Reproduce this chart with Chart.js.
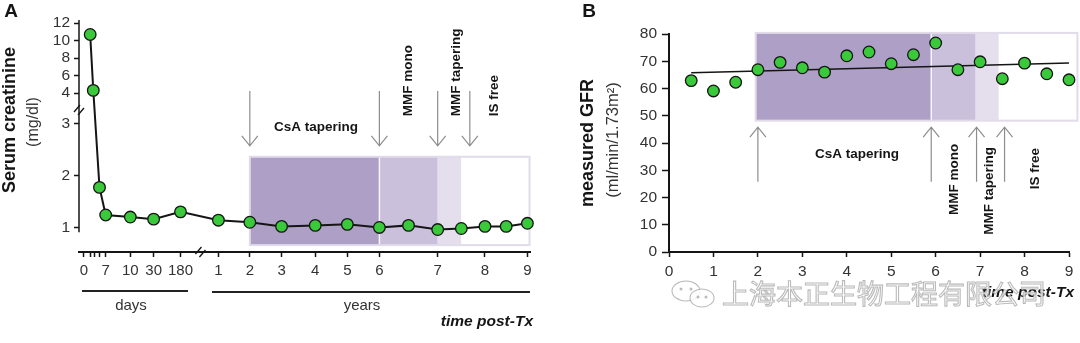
<!DOCTYPE html>
<html>
<head>
<meta charset="utf-8">
<script src="https://cdn.jsdelivr.net/npm/chart.js@4.4.0/dist/chart.umd.min.js"></script>
<style>
html, body { margin: 0; padding: 0; background: #fff; }
#wrap { position: relative; width: 1080px; height: 343px; }
.panel { position: absolute; top: 0; height: 343px; }
#panelA { left: 0; width: 545px; }
#panelB { left: 545px; width: 535px; }
</style>
</head>
<body>
<div id="wrap">
  <div class="panel" id="panelA"><canvas id="chartA" width="545" height="343"></canvas></div>
  <div class="panel" id="panelB"><canvas id="chartB" width="535" height="343"></canvas></div>
</div>
<script>
// A: serum creatinine after transplant
const creatDays = [2, 3, 5, 7, 10, 30, 180];
const creatYears = [1, 2, 3, 4, 5, 6, 6.5, 7, 7.5, 8, 8.5, 9];
const creatValues = [10.7, 4.3, 1.78, 1.25, 1.21, 1.17, 1.31, 1.15, 1.11, 1.03, 1.05, 1.07, 1.01, 1.05, 0.97, 0.99, 1.03, 1.03, 1.09];
const creatTickDays = [0, 7, 10, 30, 180, 365, 730, 1095, 1460, 1825, 2190, 2555, 2920, 3285];
const creatTickLabels = ['0', '7', '10', '30', '180', '1', '2', '3', '4', '5', '6', '7', '8', '9'];
const creatMinorDays = [2, 3.5, 5];
const creatYTicks = [1, 2, 3, 4, 6, 8, 10, 12];

// B: measured GFR
const gfrYears = [0.5, 1, 1.5, 2, 2.5, 3, 3.5, 4, 4.5, 5, 5.5, 6, 6.5, 7, 7.5, 8, 8.5, 9];
const gfrValues = [62.9, 59.1, 62.3, 66.9, 69.6, 67.6, 66.0, 72.0, 73.4, 69.1, 72.4, 76.7, 66.9, 69.8, 63.6, 69.3, 65.4, 63.2];
const gfrXTicks = [0, 1, 2, 3, 4, 5, 6, 7, 8, 9];
const gfrYTicks = [0, 10, 20, 30, 40, 50, 60, 70, 80];

// immunosuppression phases (years post-Tx), last entry closes the box
const phaseNames = ['CsA tapering', 'MMF mono', 'MMF tapering', 'IS free'];
const phaseEdgesA = [2, 6, 7, 7.5, 9.05];
const phaseEdgesB = [1.95, 5.9, 6.9, 7.42, 9.19];
const arrowYearsA = [2, 6, 7, 7.68];
const arrowYearsB = [2, 5.9, 6.92, 7.55];

const FONT = "'Liberation Sans', Arial, sans-serif";
const GREEN = '#3ac93a';
const INK = '#151515';
const TICK_TXT = '#333';
const ARROW = '#8d8d8d';
const phaseColors = ['#ae9fc7', '#cbc0dc', '#e4deed', '#ffffff'];

// broken y axis for creatinine: linear up to 3, short gap, compressed above 4
const BREAK_LO = 3, BREAK_HI = 4, GAP = 0.596, UPPER = 0.168;
function toAxis(v) {
    if (v <= BREAK_LO) return v;
    if (v < BREAK_HI) return BREAK_LO + (v - BREAK_LO) * GAP;
    return BREAK_LO + GAP + (v - BREAK_HI) * UPPER;
}

// stretched time axis: slot of each labelled tick, linear in between
const tickSlots = [0, 0.67, 1.43, 2.15, 2.98, 4.15, 5.12, 6.10, 7.14, 8.13, 9.12, 10.92, 12.38, 13.69];
function warp(days) {
    const k = creatTickDays, s = tickSlots, n = k.length;
    if (days <= k[0]) return s[0];
    for (let i = 1; i < n; i++) {
        if (days <= k[i]) return s[i - 1] + (days - k[i - 1]) / (k[i] - k[i - 1]) * (s[i] - s[i - 1]);
    }
    return s[n - 1] + (days - k[n - 1]) / (k[n - 1] - k[n - 2]) * (s[n - 1] - s[n - 2]);
}

function drawPhases(ctx, xs, top, bottom) {
    ctx.save();
    for (let i = 0; i < 4; i++) {
        ctx.fillStyle = phaseColors[i];
        ctx.fillRect(xs[i], top, xs[i + 1] - xs[i], bottom - top);
    }
    ctx.strokeStyle = '#e1dbea';
    ctx.lineWidth = 2;
    ctx.strokeRect(xs[0], top, xs[4] - xs[0], bottom - top);
    ctx.strokeStyle = 'rgba(255,255,255,0.85)';
    ctx.lineWidth = 1.5;
    ctx.beginPath();
    ctx.moveTo(xs[1], top + 1);
    ctx.lineTo(xs[1], bottom - 1);
    ctx.stroke();
    ctx.restore();
}

function drawArrow(ctx, x, yFrom, yTo) {
    const dir = yTo > yFrom ? 1 : -1;
    ctx.save();
    ctx.strokeStyle = ARROW;
    ctx.lineWidth = 1.2;
    ctx.beginPath();
    ctx.moveTo(x, yFrom);
    ctx.lineTo(x, yTo);
    ctx.moveTo(x - 8, yTo - dir * 10);
    ctx.lineTo(x, yTo);
    ctx.lineTo(x + 8, yTo - dir * 10);
    ctx.stroke();
    ctx.restore();
}

// rotated label; 'bottom' starts the text at y, 'top' ends it at y
function vText(ctx, s, x, y, anchor, font) {
    ctx.save();
    ctx.translate(x, y);
    ctx.rotate(-Math.PI / 2);
    ctx.font = font;
    ctx.textAlign = anchor === 'bottom' ? 'left' : (anchor === 'top' ? 'right' : 'center');
    ctx.textBaseline = 'middle';
    ctx.fillText(s, 0, 0);
    ctx.restore();
}

function text(ctx, s, x, y, font, align, color) {
    ctx.save();
    ctx.font = font;
    ctx.fillStyle = color || INK;
    ctx.textAlign = align || 'center';
    ctx.textBaseline = 'middle';
    ctx.fillText(s, x, y);
    ctx.restore();
}

function slash(ctx, x, y) {
    ctx.save();
    ctx.strokeStyle = INK;
    ctx.lineWidth = 1.3;
    ctx.beginPath();
    ctx.moveTo(x - 5, y + 2); ctx.lineTo(x + 1, y - 5);
    ctx.moveTo(x - 1, y + 5); ctx.lineTo(x + 5, y - 2);
    ctx.stroke();
    ctx.restore();
}

const BOLD13 = 'bold 13.5px ' + FONT;

const panelAPlugin = {
    id: 'panelA',
    beforeDatasetsDraw(chart) {
        const { ctx, scales: { x, y } } = chart;
        const px = yr => x.getPixelForValue(warp(yr * 365));
        const py = v => y.getPixelForValue(toAxis(v));
        drawPhases(ctx, phaseEdgesA.map(px), py(2.37), py(0.67));
    },
    afterDraw(chart) {
        const { ctx, chartArea, scales: { x, y } } = chart;
        const px = yr => x.getPixelForValue(warp(yr * 365));
        const py = v => y.getPixelForValue(toAxis(v));

        // y axis line stops short of the time axis
        ctx.save();
        ctx.strokeStyle = INK;
        ctx.lineWidth = 1.5;
        ctx.beginPath();
        ctx.moveTo(chartArea.left, py(0.92));
        ctx.lineTo(chartArea.left, chartArea.top);
        ctx.stroke();
        ctx.restore();
        slash(ctx, chartArea.left, y.getPixelForValue(BREAK_LO + GAP * 0.45));
        slash(ctx, (x.getPixelForValue(warp(180)) + x.getPixelForValue(warp(365))) / 2 + 1, chartArea.bottom);

        arrowYearsA.forEach(t => drawArrow(ctx, px(t), py(4.23), py(2.58)));
        ctx.fillStyle = INK;
        text(ctx, phaseNames[0], px(4.02), py(2.93), BOLD13);
        vText(ctx, phaseNames[1], px(6.5), py(3.25), 'bottom', BOLD13);
        vText(ctx, phaseNames[2], px(7.39), py(3.25), 'bottom', BOLD13);
        vText(ctx, phaseNames[3], px(8.21), py(3.25), 'bottom', BOLD13);

        // axis title and panel letter
        ctx.fillStyle = INK;
        vText(ctx, 'Serum creatinine', 10, 120, 'center', 'bold 18px ' + FONT);
        ctx.fillStyle = '#333';
        vText(ctx, '(mg/dl)', 33.5, 122, 'center', '16px ' + FONT);
        text(ctx, 'A', 11, 12, 'bold 19px ' + FONT);

        // days / years brackets under the time axis
        ctx.save();
        ctx.strokeStyle = '#222';
        ctx.lineWidth = 2;
        ctx.beginPath();
        ctx.moveTo(82, 291); ctx.lineTo(188, 291);
        ctx.moveTo(212, 292); ctx.lineTo(530, 292);
        ctx.stroke();
        ctx.restore();
        text(ctx, 'days', 131, 306, '15px ' + FONT, 'center', '#333');
        text(ctx, 'years', 362, 306, '15px ' + FONT, 'center', '#333');
        text(ctx, 'time post-Tx', 533, 322, 'italic bold 15.5px ' + FONT, 'right', INK);
    }
};

const creatTimes = creatDays.concat(creatYears.map(t => t * 365));
const creatPoints = creatTimes.map((d, i) => ({ x: warp(d), y: toAxis(creatValues[i]) }));

new Chart(document.getElementById('chartA'), {
    type: 'line',
    data: {
        datasets: [{
            data: creatPoints,
            borderColor: INK,
            borderWidth: 2,
            tension: 0,
            pointRadius: 5.8,
            pointBackgroundColor: GREEN,
            pointBorderColor: INK,
            pointBorderWidth: 1.3,
            clip: false
        }]
    },
    options: {
        responsive: false,
        animation: false,
        layout: { padding: { left: 0, top: 20, right: 15, bottom: 0 } },
        plugins: { legend: { display: false }, tooltip: { enabled: false } },
        scales: {
            x: {
                type: 'linear',
                min: -0.154,
                max: 13.77,
                afterFit: s => { s.height = 91; },
                afterBuildTicks: s => {
                    s.ticks = creatTickDays.concat(creatMinorDays).sort((a, b) => a - b).map(d => ({ value: warp(d) }));
                },
                ticks: {
                    autoSkip: false, maxRotation: 0, minRotation: 0, padding: 5,
                    color: TICK_TXT, font: { family: FONT, size: 15 },
                    callback: v => {
                        const i = creatTickDays.findIndex(d => Math.abs(warp(d) - v) < 1e-6);
                        return i < 0 ? '' : creatTickLabels[i];
                    }
                },
                grid: { drawOnChartArea: false, drawTicks: true, tickLength: 5, tickColor: INK, tickWidth: 1.5 },
                border: { display: true, color: INK, width: 2 }
            },
            y: {
                type: 'linear',
                min: 0.538,
                max: 5.0,
                afterFit: s => { s.width = 79; },
                afterBuildTicks: s => { s.ticks = creatYTicks.map(v => ({ value: toAxis(v) })); },
                ticks: {
                    padding: 4, color: TICK_TXT, font: { family: FONT, size: 15.5 },
                    callback: v => {
                        const t = creatYTicks.find(c => Math.abs(toAxis(c) - v) < 1e-6);
                        return t === undefined ? '' : String(t);
                    }
                },
                grid: { drawOnChartArea: false, drawTicks: true, tickLength: 5, tickColor: INK, tickWidth: 1.5 },
                border: { display: false }
            }
        }
    },
    plugins: [panelAPlugin]
});

// least-squares trend through the GFR measurements
const n = gfrYears.length;
const mx = gfrYears.reduce((a, b) => a + b, 0) / n;
const my = gfrValues.reduce((a, b) => a + b, 0) / n;
let sxy = 0, sxx = 0;
gfrYears.forEach((t, i) => { sxy += (t - mx) * (gfrValues[i] - my); sxx += (t - mx) * (t - mx); });
const slope = sxy / sxx;
const trend = [gfrYears[0], gfrYears[n - 1]].map(t => ({ x: t, y: my + slope * (t - mx) }));

const panelBPlugin = {
    id: 'panelB',
    beforeDatasetsDraw(chart) {
        const { ctx, scales: { x, y } } = chart;
        drawPhases(ctx, phaseEdgesB.map(t => x.getPixelForValue(t)), y.getPixelForValue(80.4), y.getPixelForValue(48.2));
    },
    afterDraw(chart) {
        const { ctx, scales: { x, y } } = chart;
        const px = t => x.getPixelForValue(t);
        const py = v => y.getPixelForValue(v);

        arrowYearsB.forEach(t => drawArrow(ctx, px(t), py(25.8), py(45.8)));
        ctx.fillStyle = INK;
        text(ctx, phaseNames[0], px(4.23), py(35.8), BOLD13);
        vText(ctx, phaseNames[1], px(6.41), py(39.7), 'top', BOLD13);
        vText(ctx, phaseNames[2], px(7.2), py(38.5), 'top', BOLD13);
        vText(ctx, phaseNames[3], px(8.25), py(38.2), 'top', BOLD13);

        ctx.fillStyle = INK;
        vText(ctx, 'measured GFR', 43, 143, 'center', 'bold 18px ' + FONT);
        ctx.fillStyle = '#333';
        vText(ctx, '(ml/min/1.73m\u00b2)', 68, 140, 'center', '16.5px ' + FONT);
        text(ctx, 'B', 44, 12, 'bold 19px ' + FONT);

        text(ctx, 'time post-Tx', 529, 293, 'italic bold 15.5px ' + FONT, 'right', INK);

        // watermark laid over the bottom-right corner
        ctx.save();
        ctx.lineWidth = 1.1;
        ctx.strokeStyle = 'rgba(175,175,175,0.85)';
        ctx.fillStyle = 'rgba(255,255,255,0.85)';
        ctx.beginPath(); ctx.ellipse(141, 291, 14, 10, 0, 0, Math.PI * 2); ctx.fill(); ctx.stroke();
        ctx.beginPath(); ctx.ellipse(157, 298, 12, 9, 0, 0, Math.PI * 2); ctx.fill(); ctx.stroke();
        ctx.fillStyle = 'rgba(175,175,175,0.85)';
        [[136, 289], [146, 289], [153, 297], [161, 297]].forEach(([a, b]) => {
            ctx.beginPath(); ctx.arc(a, b, 1.5, 0, Math.PI * 2); ctx.fill();
        });
        ctx.font = '27px "Noto Sans CJK SC"';
        ctx.textAlign = 'left';
        ctx.textBaseline = 'middle';
        ctx.fillStyle = 'rgba(255,255,255,0.8)';
        ctx.fillText('上海本正生物工程有限公司', 177, 294);
        ctx.strokeText('上海本正生物工程有限公司', 177, 294);
        ctx.restore();
    }
};

new Chart(document.getElementById('chartB'), {
    type: 'scatter',
    data: {
        datasets: [{
            data: gfrYears.map((t, i) => ({ x: t, y: gfrValues[i] })),
            pointRadius: 5.8,
            pointBackgroundColor: GREEN,
            pointBorderColor: INK,
            pointBorderWidth: 1.3,
            clip: false
        }, {
            type: 'line',
            data: trend,
            borderColor: INK,
            borderWidth: 1.5,
            pointRadius: 0,
            clip: false
        }]
    },
    options: {
        responsive: false,
        animation: false,
        layout: { padding: { left: 0, top: 34, right: 11, bottom: 0 } },
        plugins: { legend: { display: false }, tooltip: { enabled: false } },
        scales: {
            x: {
                type: 'linear',
                min: 0,
                max: 9,
                afterFit: s => { s.height = 91; },
                afterBuildTicks: s => { s.ticks = gfrXTicks.map(v => ({ value: v })); },
                ticks: { autoSkip: false, maxRotation: 0, padding: 5, color: TICK_TXT, font: { family: FONT, size: 15.5 } },
                grid: { drawOnChartArea: false, tickLength: 5, tickColor: INK, tickWidth: 1.5 },
                border: { color: INK, width: 2 }
            },
            y: {
                type: 'linear',
                min: 0,
                max: 80,
                afterFit: s => { s.width = 124; },
                afterBuildTicks: s => { s.ticks = gfrYTicks.map(v => ({ value: v })); },
                ticks: { padding: 5, color: TICK_TXT, font: { family: FONT, size: 15.5 } },
                grid: { drawOnChartArea: false, tickLength: 7, tickColor: INK, tickWidth: 1.5 },
                border: { color: INK, width: 2 }
            }
        }
    },
    plugins: [panelBPlugin]
});
</script>
</body>
</html>
